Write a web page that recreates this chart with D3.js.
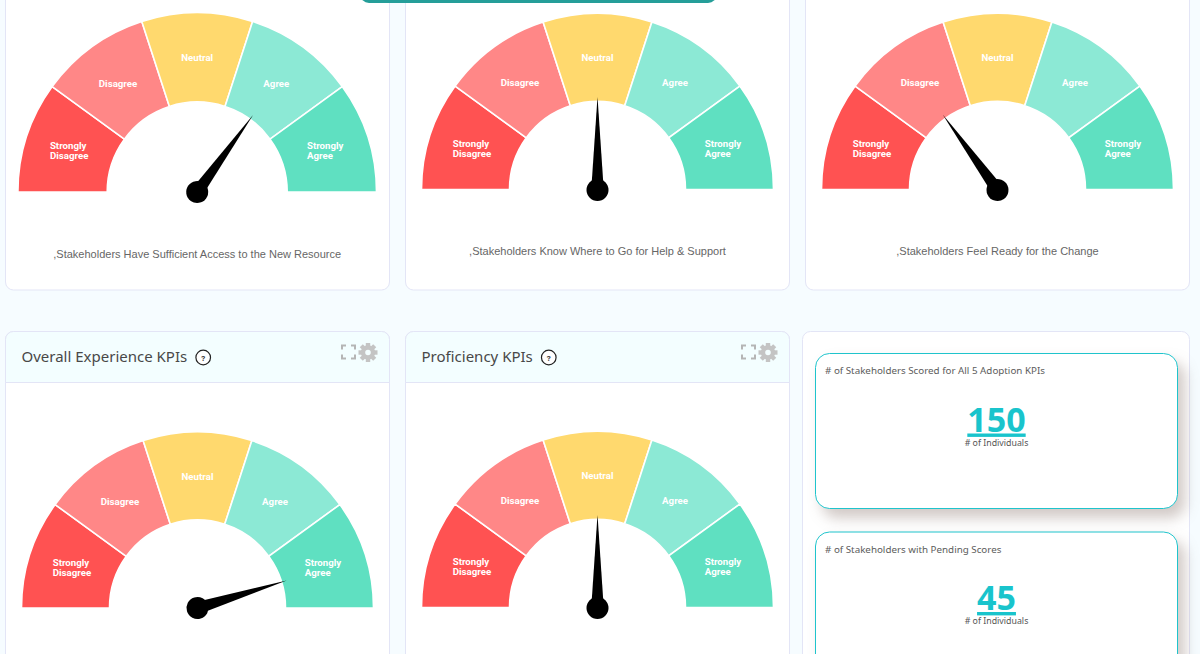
<!DOCTYPE html>
<html>
<head>
<meta charset="utf-8">
<script src="https://cdn.jsdelivr.net/npm/d3@7"></script>
<style>
html, body { margin: 0; padding: 0; background: #f6fcff; overflow: hidden; }
svg { display: block; }
.seg-label { font-family: Roboto, sans-serif; font-weight: 700; font-size: 9.7px; fill: #fff; }
.caption { font-family: "Liberation Sans", Arial, sans-serif; font-size: 11px; fill: #666; text-anchor: middle; }
.card-title { font-family: "Noto Sans", sans-serif; font-size: 15px; fill: #484848; }
.stat-title { font-family: "Noto Sans", sans-serif; font-size: 9.8px; fill: #5c5c5c; }
.stat-value { font-family: "Noto Sans", sans-serif; font-weight: 700; font-size: 34px; fill: #19c4cc; text-anchor: middle; text-decoration: underline; }
.stat-unit { font-family: "Noto Sans", sans-serif; font-size: 8.8px; fill: #555; text-anchor: middle; }
</style>
</head>
<body>
<svg id="page" width="1200" height="654"></svg>
<script>
// values
var categories = [["Strongly", "Disagree"], ["Disagree"], ["Neutral"], ["Agree"], ["Strongly", "Agree"]];
var segmentShare = [20, 20, 20, 20, 20];
var segmentColors = ["#ff5252", "#ff8787", "#ffd96e", "#8ce9d5", "#5fe0c1"];
var gaugeScores = [70, 50, 30, 90.5, 50];
var gaugeCaptions = [",Stakeholders Have Sufficient Access to the New Resource",
    ",Stakeholders Know Where to Go for Help & Support",
    ",Stakeholders Feel Ready for the Change", "", ""];
var panelTitles = ["Overall Experience KPIs", "Proficiency KPIs"];
var statTitles = ["# of Stakeholders Scored for All 5 Adoption KPIs", "# of Stakeholders with Pending Scores"];
var statValues = [150, 45];
var statUnit = "# of Individuals";

// layout
var gaugeLayout = [
    {cx: 197.2, cy: 192, r: 179.3, inner: 90, hubY: 192, capY: 258},
    {cx: 597.5, cy: 189.5, r: 176, inner: 88, hubY: 190, capY: 255},
    {cx: 997.5, cy: 189.5, r: 176, inner: 88, hubY: 190, capY: 255},
    {cx: 197.5, cy: 608, r: 176, inner: 88, hubY: 608},
    {cx: 597.5, cy: 607.5, r: 176, inner: 88, hubY: 608}
];
var topCards = [{x: 5.5, w: 384}, {x: 405.5, w: 384}, {x: 805.5, w: 384}];
var panelCards = [{x: 5.5, w: 384}, {x: 405.5, w: 384}];
var statBoxes = [{y: 353.5, h: 155}, {y: 532, h: 180}];

var borderColor = "#e3e5f6";
var svg = d3.select("#page");

// top row cards run off the top of the page
topCards.forEach(function(c) {
    svg.append("rect").attr("x", c.x).attr("y", -30).attr("width", c.w).attr("height", 320)
        .attr("rx", 8).attr("fill", "#fff").attr("stroke", borderColor);
});

// top teal bar, cut by the page edge
svg.append("rect").attr("x", 360).attr("y", -20).attr("width", 357).attr("height", 23)
    .attr("rx", 9).attr("fill", "#259e99");

panelCards.forEach(function(c, i) {
    var g = svg.append("g").attr("transform", "translate(" + c.x + ",331.5)");
    g.append("rect").attr("width", c.w).attr("height", 400).attr("rx", 8)
        .attr("fill", "#fff").attr("stroke", borderColor);
    g.append("path")
        .attr("d", "M0,51V8A8,8 0 0 1 8,0H" + (c.w - 8) + "A8,8 0 0 1 " + c.w + ",8V51Z")
        .attr("fill", "#f3feff").attr("stroke", borderColor);
    var title = g.append("text").attr("class", "card-title").attr("x", 16).attr("y", 30.5).text(panelTitles[i]);
    var tw = title.node().getComputedTextLength();
    // help icon
    var help = g.append("g").attr("transform", "translate(" + (16 + tw + 16) + ",26)");
    help.append("circle").attr("r", 7.3).attr("fill", "#fff").attr("stroke", "#222").attr("stroke-width", 1.2);
    help.append("text").attr("y", 3).attr("text-anchor", "middle")
        .attr("font-family", "Roboto, sans-serif").attr("font-weight", 700).attr("font-size", 8)
        .attr("fill", "#333").text("?");
    // expand icon
    var ex = g.append("g").attr("transform", "translate(" + (c.w - 47.5) + ",14)")
        .attr("fill", "none").attr("stroke", "#b5b5b5").attr("stroke-width", 2);
    ex.append("path").attr("d", "M0,4V0H4M9,0H13V4M13,9V13H9M4,13H0V9");
    // gear icon
    var gear = g.append("g").attr("transform", "translate(" + (c.w - 21.5) + ",21)");
    d3.range(8).forEach(function(k) {
        gear.append("rect").attr("x", -2.2).attr("y", -9.5).attr("width", 4.4).attr("height", 5)
            .attr("fill", "#c4c4c4").attr("transform", "rotate(" + k * 45 + ")");
    });
    gear.append("circle").attr("r", 5).attr("fill", "none").attr("stroke", "#c4c4c4").attr("stroke-width", 4.4);
});

// right hand panel with the two stat boxes
svg.append("rect").attr("x", 802.5).attr("y", 331.5).attr("width", 387).attr("height", 400)
    .attr("rx", 8).attr("fill", "#fff").attr("stroke", borderColor);

statBoxes.forEach(function(b, i) {
    var g = svg.append("g").attr("transform", "translate(815.5," + b.y + ")");
    g.append("rect").attr("width", 362).attr("height", b.h).attr("rx", 14)
        .attr("fill", "#fff").attr("stroke", "#1fc4cc")
        .style("filter", "drop-shadow(7px 9px 7px rgba(90,60,50,0.28))");
    g.append("text").attr("class", "stat-title").attr("x", 9.5).attr("y", 20.5).text(statTitles[i]);
    g.append("text").attr("class", "stat-value").attr("x", 181).attr("y", 78).text(statValues[i]);
    g.append("text").attr("class", "stat-unit").attr("x", 181).attr("y", 92).text(statUnit);
});

// gauges
var angle = d3.scaleLinear().domain([0, 100]).range([-90, 90]);
var pie = d3.pie().sort(null).startAngle(-Math.PI / 2).endAngle(Math.PI / 2);
var needleLine = d3.line();

gaugeLayout.forEach(function(L, i) {
    var g = svg.append("g").attr("transform", "translate(" + L.cx + "," + L.cy + ")");
    var arc = d3.arc().innerRadius(L.inner).outerRadius(L.r);
    var arcs = pie(segmentShare);

    g.selectAll("path.seg").data(arcs).enter().append("path")
        .attr("class", "seg")
        .attr("d", arc)
        .attr("fill", function(d, k) { return segmentColors[k]; })
        .attr("stroke", "#fff")
        .attr("stroke-width", 1.6);

    g.selectAll("text.seg-label").data(arcs).enter().append("text")
        .attr("class", "seg-label")
        .each(function(d, k) {
            var t = d3.select(this);
            var lines = categories[k];
            lines.forEach(function(line, n) {
                t.append("tspan").attr("x", 0).attr("y", n * 10).text(line);
            });
            // lines sit left aligned, block centred on the slice
            var w = this.getBBox().width;
            var c = arc.centroid(d);
            t.attr("transform", "translate(" + (c[0] - w / 2) + "," + (c[1] + 3.5 - (lines.length - 1) * 5) + ")");
        });

    var needle = svg.append("g")
        .attr("transform", "translate(" + L.cx + "," + L.hubY + ") rotate(" + angle(gaugeScores[i]) + ")");
    needle.append("path")
        .attr("d", needleLine([[-5.8, -7], [0, -L.r * 0.53], [5.8, -7]]) + "Z")
        .attr("fill", "#000");
    needle.append("circle").attr("r", 11).attr("fill", "#000");

    if (gaugeCaptions[i]) {
        svg.append("text").attr("class", "caption")
            .attr("x", L.cx).attr("y", L.capY).text(gaugeCaptions[i]);
    }
});
</script>
</body>
</html>
